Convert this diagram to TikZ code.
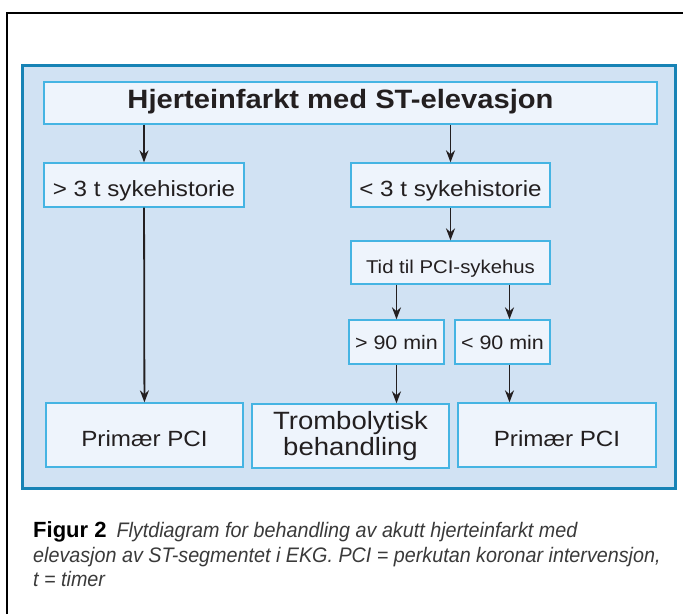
\documentclass[tikz,border=0pt]{standalone}
\usepackage{fontspec}
\setmainfont{Liberation Sans}
\newfontfamily\boxfont[FakeStretch=1.1]{Liberation Sans}
\newfontfamily\capfont[FakeStretch=0.94]{Liberation Sans}
\usepackage{xcolor}
\usetikzlibrary{arrows.meta, calc}

\definecolor{frameblue}{HTML}{1783B5}
\definecolor{panelfill}{HTML}{D1E2F3}
\definecolor{boxline}{HTML}{45B4E3}
\definecolor{boxfill}{HTML}{EEF4FC}
\definecolor{inkdark}{HTML}{231F20}
\definecolor{capgray}{HTML}{3A3A3A}

\begin{document}
\begin{tikzpicture}[x=1pt, y=-1pt,
	box/.style = {draw = boxline, fill = boxfill, line width = 1.3pt, inner sep = 0pt,
		text = inkdark, font = \boxfont, text height = 22pt, text depth = 0pt},
	flow/.style = {-{Stealth[length = 12pt, width = 9pt]}, line width = 1.8pt, inkdark}]
	%page size
	\useasboundingbox (0,0) rectangle (683,614);
	
	%outer frame
	\draw [line width = 2pt] (7,614) -- (7,13) -- (683,13);
	
	%blue panel
	\draw [frameblue, fill = panelfill, line width = 3pt] (22.5,65.5) rectangle (675.5,488.5);
	
	%boxes
	\node [box, minimum width = 613pt, minimum height = 42pt, text height = 10.6pt,
		font = \boxfont\bfseries\fontsize{26.5}{30}\selectfont] (title) at (350.5,103) {Hjerteinfarkt med ST-elevasjon\rule{20pt}{0pt}};
	
	\node [box, minimum width = 200pt, minimum height = 44pt, font = \boxfont\fontsize{22}{26}\selectfont] (gt3) at (144,185) {> 3 t sykehistorie};
	\node [box, minimum width = 199pt, minimum height = 44pt, font = \boxfont\fontsize{22}{26}\selectfont] (lt3) at (450.5,185) {< 3 t sykehistorie};
	
	\node [box, minimum width = 199pt, minimum height = 43pt, text height = 21.6pt,
		font = \boxfont\fontsize{18.5}{22}\selectfont] (tid) at (450.5,262.5) {Tid til PCI-sykehus};
	
	\node [box, minimum width = 95pt, minimum height = 44pt, text height = 14.6pt,
		font = \boxfont\fontsize{19.5}{23}\selectfont] (gt90) at (396.5,342) {> 90 min};
	\node [box, minimum width = 95pt, minimum height = 44pt, text height = 14.6pt,
		font = \boxfont\fontsize{19.5}{23}\selectfont] (lt90) at (502.5,342) {< 90 min};
	
	\node [box, minimum width = 197pt, minimum height = 64pt, font = \boxfont\fontsize{22}{26}\selectfont] (pciA) at (144.5,435) {Primær PCI};
	\node [box, minimum width = 197pt, minimum height = 64pt, align = center, text height = {}, text depth = {},
		font = \boxfont\fontsize{25}{26}\selectfont] (trombo) at (350.5,436) {Trombolytisk\\behandling};
	\node [box, minimum width = 198pt, minimum height = 64pt, font = \boxfont\fontsize{22}{26}\selectfont] (pciB) at (557,435) {Primær PCI};
	
	%connectors
	\draw [flow] (title.south -| gt3) -- (gt3);
	\draw [flow] (title.south -| lt3) -- (lt3);
	\draw [flow] (gt3) -- (pciA);
	\draw [flow] (lt3) -- (tid);
	\draw [flow] (tid.south -| gt90) -- (gt90);
	\coordinate (lt90x) at ($(lt90.south)+(7,0)$);
	\draw [flow] (tid.south -| lt90x) -- (lt90.north -| lt90x);
	\draw [flow] (gt90) -- (gt90 |- trombo.north);
	\draw [flow] (lt90x) -- (lt90x |- pciB.north);
	
	%caption
	\node [anchor = base west, inner sep = 0pt, font = \capfont\fontsize{21}{24.5}\selectfont] (capA) at (33,537)
		{{\normalfont\fontsize{22}{24.5}\selectfont\bfseries Figur 2}\hspace{10pt}\color{capgray}\itshape Flytdiagram for behandling av akutt hjerteinfarkt med};
	\node [anchor = base west, inner sep = 0pt, text = capgray, font = \capfont\itshape\fontsize{21}{24.5}\selectfont] (capB) at (33,562)
		{elevasjon av ST-segmentet i EKG. PCI = perkutan koronar intervensjon,};
	\node [anchor = base west, inner sep = 0pt, text = capgray, font = \capfont\itshape\fontsize{21}{24.5}\selectfont] (capC) at (33,586)
		{t = timer};
\end{tikzpicture}
\end{document}
